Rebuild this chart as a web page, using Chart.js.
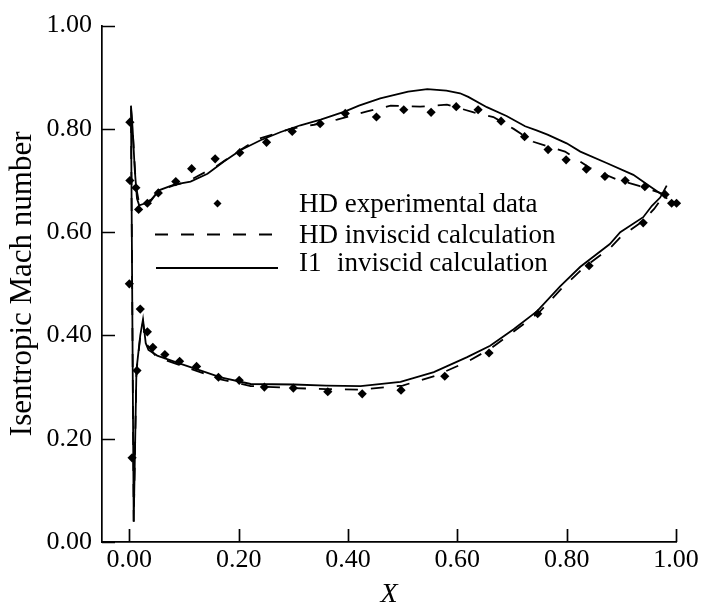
<!DOCTYPE html>
<html>
<head>
<meta charset="utf-8">
<script src="https://cdn.jsdelivr.net/npm/chart.js@4.4.1/dist/chart.umd.min.js"></script>
<style>
  html, body { margin: 0; padding: 0; background: #fff; }
  #wrap { width: 705px; height: 612px; }
</style>
</head>
<body>
<div id="wrap"><canvas id="chart" width="705" height="612"></canvas></div>
<script>
// Axis ticks
const xTicks = [0, 0.2, 0.4, 0.6, 0.8, 1.0];
const yTicks = [0, 0.2, 0.4, 0.6, 0.8, 1.0];

// HD experimental data (upper surface, then lower surface)
const expX = [0.001, 0.001, 0.012, 0.017, 0.033, 0.053, 0.085, 0.114, 0.157, 0.202, 0.251, 0.298, 0.349, 0.395,
              0.452, 0.502, 0.552, 0.598, 0.638, 0.680, 0.723, 0.766, 0.799, 0.836, 0.870, 0.907, 0.943, 0.980,
              0.992, 1.001,
              0.000, 0.005, 0.014, 0.020, 0.033, 0.043, 0.065, 0.092, 0.123, 0.163, 0.201, 0.247, 0.300, 0.363,
              0.426, 0.497, 0.577, 0.658, 0.747, 0.841, 0.940];
const expY = [0.813, 0.700, 0.686, 0.644, 0.656, 0.676, 0.698, 0.723, 0.742, 0.754, 0.774, 0.795, 0.810, 0.830,
              0.823, 0.837, 0.832, 0.843, 0.837, 0.815, 0.785, 0.760, 0.740, 0.722, 0.708, 0.700, 0.688, 0.673,
              0.656, 0.656,
              0.500, 0.163, 0.332, 0.451, 0.407, 0.377, 0.363, 0.350, 0.340, 0.319, 0.313, 0.300, 0.298, 0.291,
              0.287, 0.294, 0.321, 0.366, 0.442, 0.535, 0.618];

// HD inviscid calculation (upper TE -> LE -> lower TE)
const hdX = [0.980, 0.971, 0.934, 0.892, 0.843, 0.797, 0.739, 0.703, 0.666, 0.630, 0.581, 0.532, 0.478, 0.435,
             0.380, 0.338, 0.295, 0.234, 0.200, 0.160, 0.106, 0.080, 0.054, 0.040, 0.027, 0.018, 0.012, 0.006,
             0.003, 0.008, 0.013, 0.020, 0.025, 0.030, 0.050, 0.094, 0.167, 0.222, 0.300, 0.360, 0.420, 0.500,
             0.560, 0.620, 0.660, 0.700, 0.750, 0.790, 0.830, 0.880, 0.900, 0.940, 0.960, 0.980];
const hdY = [0.674, 0.676, 0.689, 0.702, 0.724, 0.756, 0.775, 0.800, 0.823, 0.832, 0.847, 0.843, 0.845, 0.834,
             0.818, 0.808, 0.800, 0.780, 0.757, 0.728, 0.698, 0.690, 0.680, 0.663, 0.656, 0.655, 0.690, 0.800,
             0.840, 0.040, 0.330, 0.398, 0.425, 0.385, 0.358, 0.342, 0.315, 0.302, 0.298, 0.296, 0.295, 0.303,
             0.322, 0.350, 0.374, 0.405, 0.445, 0.490, 0.530, 0.570, 0.592, 0.622, 0.645, 0.674];

// I1 inviscid calculation (upper TE -> LE -> lower TE)
const i1X = [0.984, 0.974, 0.952, 0.922, 0.873, 0.825, 0.800, 0.765, 0.745, 0.724, 0.690, 0.654, 0.620, 0.605,
             0.580, 0.545, 0.510, 0.459, 0.420, 0.395, 0.350, 0.313, 0.277, 0.240, 0.204, 0.173, 0.143, 0.112,
             0.082, 0.054, 0.039, 0.027, 0.018, 0.014, 0.010, 0.006, 0.003, 0.008, 0.013, 0.020, 0.025, 0.030,
             0.035, 0.051, 0.094, 0.131, 0.167, 0.222, 0.301, 0.360, 0.423, 0.496, 0.557, 0.618, 0.660, 0.703,
             0.746, 0.788, 0.825, 0.879, 0.898, 0.940, 0.956, 0.971, 0.983];
const i1Y = [0.665, 0.673, 0.689, 0.711, 0.734, 0.756, 0.772, 0.789, 0.797, 0.805, 0.825, 0.842, 0.862, 0.869,
             0.874, 0.877, 0.872, 0.859, 0.845, 0.834, 0.818, 0.807, 0.794, 0.778, 0.759, 0.737, 0.713, 0.698,
             0.692, 0.681, 0.660, 0.655, 0.652, 0.665, 0.720, 0.800, 0.845, 0.039, 0.333, 0.400, 0.431, 0.385,
             0.372, 0.361, 0.345, 0.332, 0.319, 0.306, 0.305, 0.303, 0.302, 0.310, 0.329, 0.358, 0.380, 0.412,
             0.447, 0.495, 0.533, 0.577, 0.600, 0.629, 0.651, 0.667, 0.690];

const toPoints = (xs, ys) => xs.map((x, i) => ({ x: x, y: ys[i] }));

const serif = '"Liberation Serif", "DejaVu Serif", serif';
const DASH = [13, 13];

// inward tick marks + in-plot legend
const decorPlugin = {
    id: 'decor',
    afterDraw(chart) {
        const ctx = chart.ctx;
        const xs = chart.scales.x, ys = chart.scales.y;
        const area = chart.chartArea;
        ctx.save();
        ctx.strokeStyle = '#000';
        ctx.lineWidth = 1.7;
        ctx.beginPath();
        xTicks.forEach(v => {
            const px = Math.round(xs.getPixelForValue(v)) + 0.5;
            ctx.moveTo(px, area.bottom);
            ctx.lineTo(px, area.bottom - 13);
        });
        yTicks.forEach(v => {
            const py = Math.round(ys.getPixelForValue(v)) + 0.5;
            ctx.moveTo(area.left, py);
            ctx.lineTo(area.left + 13, py);
        });
        ctx.stroke();

        // legend
        ctx.fillStyle = '#000';
        ctx.beginPath();
        ctx.moveTo(217.5, 199.5);
        ctx.lineTo(221.5, 203.5);
        ctx.lineTo(217.5, 207.5);
        ctx.lineTo(213.5, 203.5);
        ctx.closePath();
        ctx.fill();

        ctx.lineWidth = 1.8;
        ctx.setLineDash(DASH);
        ctx.beginPath();
        ctx.moveTo(155, 234.5);
        ctx.lineTo(278, 234.5);
        ctx.stroke();
        ctx.setLineDash([]);
        ctx.beginPath();
        ctx.moveTo(156, 268);
        ctx.lineTo(278, 268);
        ctx.stroke();

        ctx.font = '27px ' + serif;
        ctx.textBaseline = 'alphabetic';
        ctx.textAlign = 'left';
        ctx.fillText('HD experimental data', 299, 211.5);
        ctx.fillText('HD inviscid calculation', 299, 243);
        ctx.fillText('I1', 299, 270.5);
        ctx.fillText('inviscid calculation', 337, 270.5);
        ctx.restore();
    }
};

new Chart(document.getElementById('chart'), {
    type: 'scatter',
    data: {
        datasets: [
            {
                label: 'HD experimental data',
                data: toPoints(expX, expY),
                showLine: false,
                pointStyle: 'rectRot',
                pointRadius: 4.6,
                pointBackgroundColor: '#000',
                pointBorderColor: '#000',
                pointBorderWidth: 0,
                clip: false
            },
            {
                label: 'HD inviscid calculation',
                data: toPoints(hdX, hdY),
                showLine: true,
                borderColor: '#000',
                borderWidth: 1.8,
                borderDash: DASH,
                pointRadius: 0,
                tension: 0
            },
            {
                label: 'I1 inviscid calculation',
                data: toPoints(i1X, i1Y),
                showLine: true,
                borderColor: '#000',
                borderWidth: 1.8,
                pointRadius: 0,
                tension: 0
            }
        ]
    },
    options: {
        responsive: false,
        animation: false,
        layout: { padding: { top: 19, right: 29, left: 0, bottom: 0 } },
        plugins: {
            legend: { display: false },
            tooltip: { enabled: false }
        },
        scales: {
            x: {
                type: 'linear',
                min: -0.05,
                max: 1.0,
                afterBuildTicks: s => { s.ticks = xTicks.map(v => ({ value: v })); },
                afterFit: s => { s.height = 70; },
                grid: { display: false, drawTicks: false },
                border: { display: true, color: '#000', width: 1.7 },
                ticks: {
                    color: '#000',
                    padding: 3,
                    maxRotation: 0,
                    font: { family: serif, size: 26 },
                    callback: v => v.toFixed(2)
                },
                title: {
                    display: true,
                    text: 'X',
                    color: '#000',
                    font: { family: serif, size: 28, style: 'italic' },
                    padding: { top: 0, bottom: 1 }
                }
            },
            y: {
                type: 'linear',
                min: 0,
                max: 1.0,
                afterBuildTicks: s => { s.ticks = yTicks.map(v => ({ value: v })); },
                afterFit: s => { s.width = 102; },
                grid: { display: false, drawTicks: false },
                border: { display: true, color: '#000', width: 1.7 },
                ticks: {
                    color: '#000',
                    padding: 10,
                    font: { family: serif, size: 26 },
                    callback: v => v.toFixed(2)
                },
                title: {
                    display: true,
                    text: 'Isentropic Mach number',
                    color: '#000',
                    font: { family: serif, size: 31 },
                    padding: { top: 4, bottom: 0 }
                }
            }
        }
    },
    plugins: [decorPlugin]
});
</script>
</body>
</html>
